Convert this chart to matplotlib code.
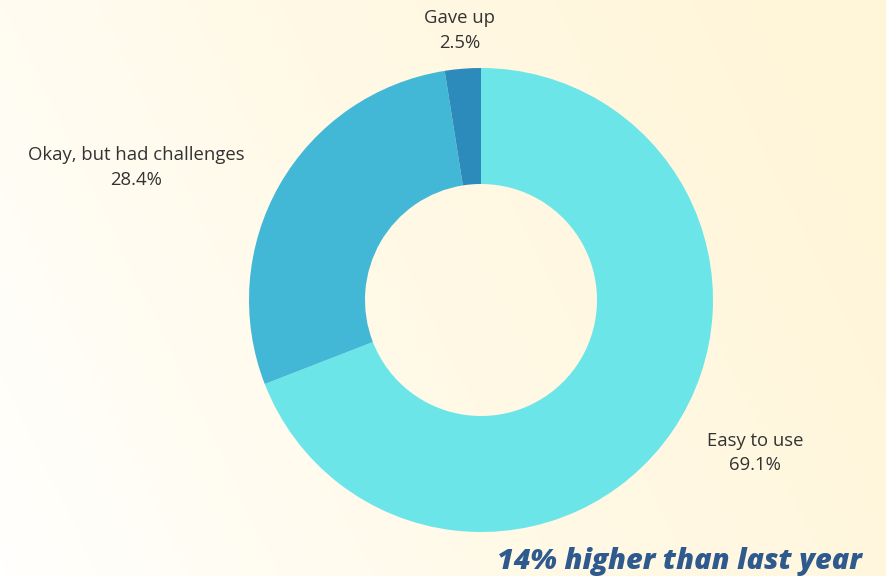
import numpy as np
import matplotlib
matplotlib.use("Agg")
import matplotlib.pyplot as plt
from matplotlib.colors import LinearSegmentedColormap

# survey results
labels = ["Easy to use", "Okay, but had challenges", "Gave up"]
shares = [69.1, 28.4, 2.5]
colors = ["#6CE5E8", "#42B8D6", "#2C8BBB"]
note = "14% higher than last year"

W, H = 887, 576
fig = plt.figure(figsize=(W / 100, H / 100), dpi=100)

# background: white on the left fading to pale yellow on the right
bg = fig.add_axes([0, 0, 1, 1])
bg.set_axis_off()
gx, gy = np.meshgrid(np.linspace(0, 1, 200), np.linspace(0, 1, 130))
t = np.clip(0.8 * gx + 0.25 * gy, 0, 1)
cmap = LinearSegmentedColormap.from_list("bg", ["#FFFFFD", "#FFF9E6", "#FFF5D8"])
bg.imshow(t, cmap=cmap, aspect="auto", extent=[0, 1, 0, 1], origin="lower")

# donut, drawn in pixel units
ax = fig.add_axes([0, 0, 1, 1])
ax.set_axis_off()
cx, cy, r = 481, H - 300, 232
ax.pie(shares, colors=colors, startangle=90, counterclock=False,
       center=(cx, cy), radius=r, wedgeprops=dict(width=r * 0.5, linewidth=0))
ax.set_xlim(0, W)
ax.set_ylim(0, H)
ax.set_aspect("equal")

txt = dict(ha="center", va="center", fontsize=13.3, color="#333333",
           family="Open Sans", linespacing=1.5)
pos = [(755, H - 453), (136, H - 167), (460, H - 30)]
for lab, val, (x, y) in zip(labels, shares, pos):
    ax.text(x, y, f"{lab}\n{val}%", **txt)

ax.text(862, H - 561, note, ha="right", va="center", fontsize=20.8,
        fontweight=800, fontstyle="italic", color="#2F5A8E", family="Open Sans")

fig.savefig("out.png", dpi=100)
